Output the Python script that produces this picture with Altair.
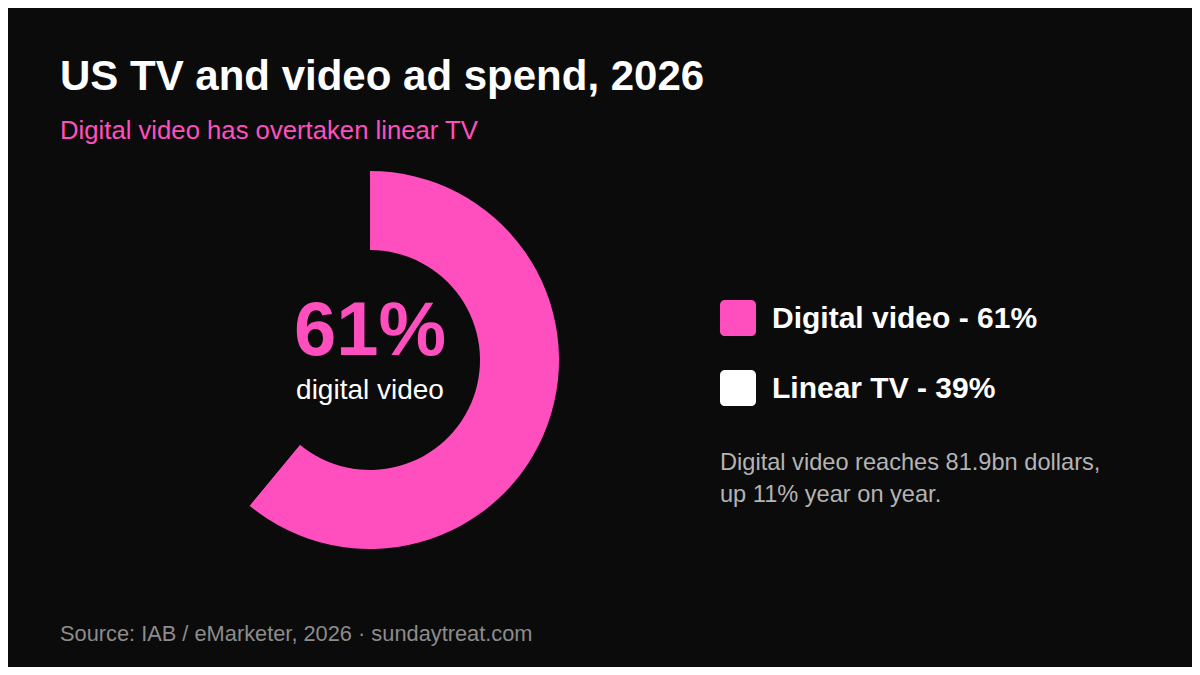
"""US TV and video ad spend, 2026: donut de cuota digital vs TV lineal."""

import altair as alt
import pandas as pd

# --- datos -------------------------------------------------------------
TITLE = "US TV and video ad spend, 2026"
SUBTITLE = "Digital video has overtaken linear TV"
SEGMENTS = ["Digital video", "Linear TV"]
SHARES = [61, 39]
SWATCHES = ["#ff4fbf", "#ffffff"]
HEADLINE = "61%"
HEADLINE_LABEL = "digital video"
NOTE_LINES = ["Digital video reaches 81.9bn dollars,", "up 11% year on year."]
SOURCE = "Source: IAB / eMarketer, 2026 · sundaytreat.com"

# --- estilo ------------------------------------------------------------
BG = "#0b0b0b"
PINK = SWATCHES[0]
FONT = "Liberation Sans"
W, H = 1184, 659

# Rounded square (unit path, scaled by the symbol size)
ROUNDED_SQ = (
    "M-0.73,-1 H0.73 A0.27,0.27 0 0 1 1,-0.73 V0.73 A0.27,0.27 0 0 1 0.73,1 "
    "H-0.73 A0.27,0.27 0 0 1 -1,0.73 V-0.73 A0.27,0.27 0 0 1 -0.73,-1 Z"
)


def text_layer(text, x, y, size, color, weight="normal", align="left", line_height=None):
    """Texto suelto anclado en píxeles del lienzo (títulos, notas, fuente)."""
    kwargs = dict(
        font=FONT, fontSize=size, fontWeight=weight, color=color,
        align=align, baseline="alphabetic",
    )
    if line_height is not None:
        kwargs.update(lineBreak="\n", lineHeight=line_height)
    return (
        alt.Chart(pd.DataFrame({"t": [text]}))
        .mark_text(**kwargs)
        .encode(x=alt.value(x), y=alt.value(y), text="t:N")
    )


shares = pd.DataFrame(
    {
        "segment": SEGMENTS,
        "share": SHARES,
        "swatch": SWATCHES,
        "order": list(range(len(SEGMENTS))),
        "label": [f"{s} - {v}%" for s, v in zip(SEGMENTS, SHARES)],
    }
)

# Donut: solo se ve el tramo digital; el lineal va en el color de fondo.
donut = (
    alt.Chart(shares)
    .mark_arc(radius=189, radius2=110, stroke=None)
    .encode(
        theta=alt.Theta("share:Q", stack=True),
        order=alt.Order("order:Q"),
        color=alt.Color(
            "segment:N",
            scale=alt.Scale(domain=SEGMENTS, range=[PINK, BG]),
            legend=None,
        ),
        x=alt.value(362),
        y=alt.value(352),
    )
)

# Filas de la leyenda: escala de puntos sin padding, centros a 70 px.
legend_y = alt.Y(
    "segment:N",
    scale=alt.Scale(domain=SEGMENTS, range=[310, 380], padding=0),
    axis=None,
)

swatches = (
    alt.Chart(shares)
    .mark_point(shape=ROUNDED_SQ, size=36 * 36, filled=True, opacity=1, strokeWidth=0)
    .encode(x=alt.value(730), y=legend_y, color=alt.Color("swatch:N", scale=None))
)

legend_text = (
    alt.Chart(shares)
    .mark_text(
        font=FONT, fontSize=30, fontWeight="bold", color="#ffffff",
        align="left", baseline="middle", dy=1,
    )
    .encode(x=alt.value(764), y=legend_y, text="label:N")
)

chart = (
    alt.layer(
        donut,
        swatches,
        legend_text,
        text_layer(TITLE, 52, 82, 42, "#ffffff", weight="bold"),
        text_layer(SUBTITLE, 52, 131, 25.7, PINK),
        text_layer(HEADLINE, 362, 347, 76, PINK, weight="bold", align="center"),
        text_layer(HEADLINE_LABEL, 362, 391, 28, "#ffffff", align="center"),
        text_layer("\n".join(NOTE_LINES), 712, 462, 23.6, "#b4b4b4", line_height=32),
        text_layer(SOURCE, 52, 633, 21.8, "#8c8c8c"),
    )
    .properties(
        width=W,
        height=H,
        background=BG,
        padding=0,
        autosize=alt.AutoSizeParams(type="none"),
    )
    .configure_view(strokeWidth=0)
)

chart.save("out.html", embed_options={"renderer": "svg", "actions": False})
